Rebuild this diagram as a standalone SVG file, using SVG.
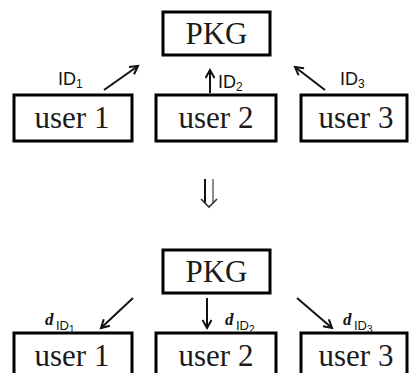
<svg xmlns="http://www.w3.org/2000/svg" width="409" height="373" viewBox="0 0 409 373">
<defs>
<style>
.box{fill:#fff;stroke:#000;stroke-width:3}
.lbl{font-family:"Liberation Serif","Times New Roman",serif;font-size:31px;fill:#1a1a1a;text-anchor:middle}
.id{font-family:"Liberation Sans",Arial,sans-serif;font-size:18px;fill:#111}
.sub{font-size:12px}
.d{font-family:"Liberation Serif","Times New Roman",serif;font-style:italic;font-weight:bold;font-size:17px;fill:#111}
.ids{font-family:"Liberation Sans",Arial,sans-serif;font-size:13px;fill:#111}
.subs{font-size:10px}
.con{stroke:#111;stroke-width:2;fill:none}
</style>
<marker id="ah" markerWidth="12" markerHeight="12" refX="9" refY="5" orient="auto" markerUnits="userSpaceOnUse">
<path d="M1,0.5 L9,5 L1,9.5" fill="none" stroke="#111" stroke-width="2"/>
</marker>
</defs>
<rect width="409" height="373" fill="#fff"/>

<g id="pkg-top"><rect class="box" x="163" y="12" width="107" height="43"/><text class="lbl" x="216.5" y="44">PKG</text></g>
<g id="user1-top"><rect class="box" x="14" y="95" width="118" height="46"/><text class="lbl" x="72" y="128">user 1</text></g>
<g id="user2-top"><rect class="box" x="156" y="95" width="120" height="46"/><text class="lbl" x="216" y="128">user 2</text></g>
<g id="user3-top"><rect class="box" x="301" y="95" width="106" height="46"/><text class="lbl" x="356" y="128">user 3</text></g>

<g id="pkg-bottom"><rect class="box" x="163" y="250" width="107" height="43"/><text class="lbl" x="216.5" y="282">PKG</text></g>
<g id="user1-bottom"><rect class="box" x="14" y="333" width="118" height="50"/><text class="lbl" x="72" y="366">user 1</text></g>
<g id="user2-bottom"><rect class="box" x="156" y="333" width="120" height="50"/><text class="lbl" x="216" y="366">user 2</text></g>
<g id="user3-bottom"><rect class="box" x="301" y="333" width="106" height="50"/><text class="lbl" x="356" y="366">user 3</text></g>

<g id="connectors">
<line class="con" x1="104" y1="90" x2="138" y2="66" marker-end="url(#ah)"/>
<line class="con" x1="210" y1="93" x2="210" y2="70" marker-end="url(#ah)"/>
<line class="con" x1="325" y1="90" x2="295" y2="67" marker-end="url(#ah)"/>
<line class="con" x1="133" y1="298" x2="101" y2="328" marker-end="url(#ah)"/>
<line class="con" x1="207" y1="298" x2="207" y2="328" marker-end="url(#ah)"/>
<line class="con" x1="297" y1="298" x2="332" y2="328" marker-end="url(#ah)"/>
<g id="transition">
<line x1="205" y1="179" x2="205" y2="203" stroke="#111" stroke-width="2"/>
<line x1="213" y1="179" x2="213" y2="203" stroke="#666" stroke-width="1.5"/>
<path d="M201,199 L209,207 L217,199" fill="none" stroke="#333" stroke-width="1.6"/>
</g>
</g>

<g id="labels">
<text class="id" x="58" y="85">ID<tspan class="sub" dy="3">1</tspan></text>
<text class="id" x="218" y="88">ID<tspan class="sub" dy="3">2</tspan></text>
<text class="id" x="340" y="85">ID<tspan class="sub" dy="3">3</tspan></text>
<text class="d" x="45" y="325">d</text><text class="ids" x="56" y="330">ID<tspan class="subs" dy="3">1</tspan></text>
<text class="d" x="225" y="325">d</text><text class="ids" x="236" y="330">ID<tspan class="subs" dy="3">2</tspan></text>
<text class="d" x="343" y="325">d</text><text class="ids" x="354" y="330">ID<tspan class="subs" dy="3">3</tspan></text>
</g>
</svg>
